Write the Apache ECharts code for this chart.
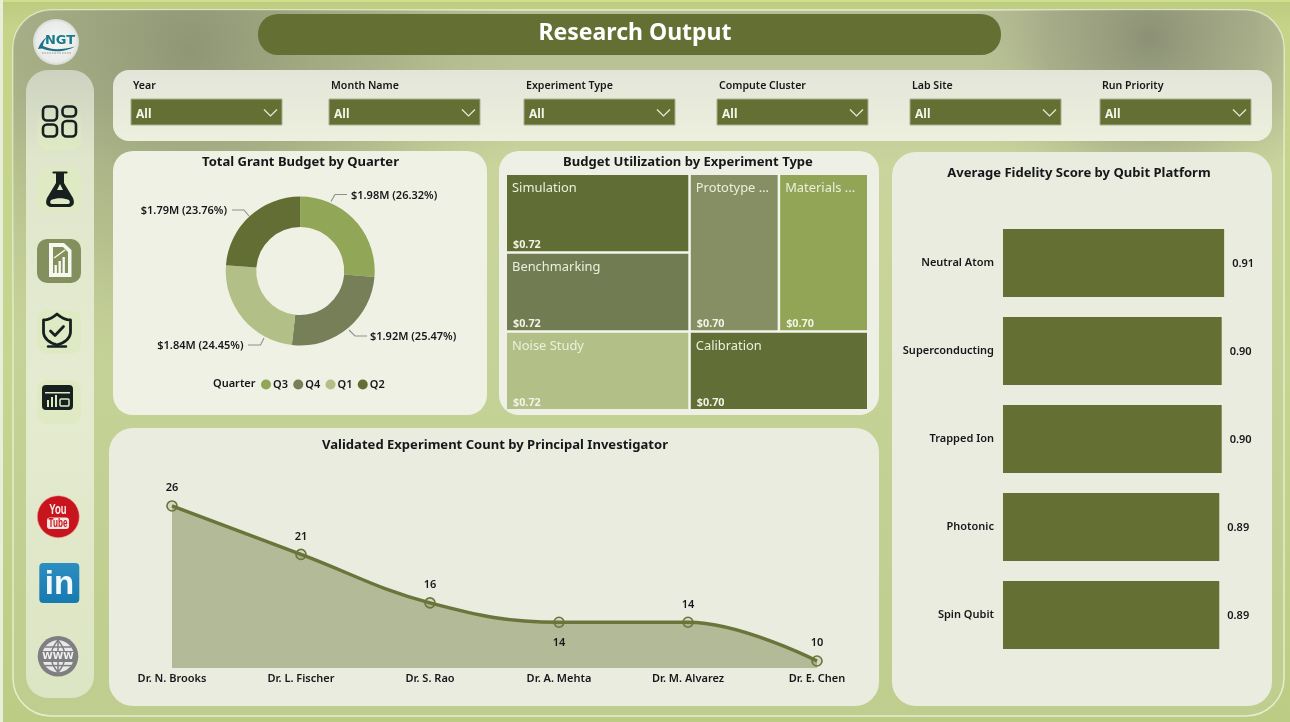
<!DOCTYPE html>
<html>
<head>
<meta charset="utf-8">
<title>Research Output</title>
<script src="https://cdn.jsdelivr.net/npm/echarts@6/dist/echarts.min.js"></script>
<style>
  html, body { margin: 0; padding: 0; background: #c8d690; }
  #board { width: 1290px; height: 722px; }
</style>
</head>
<body>
<div id="board"></div>
<script>
// Quarterly grant budget, in millions of dollars, with the stated share of the total
const quarters = ['Q3', 'Q4', 'Q1', 'Q2'];
const quarterBudget = [1.98, 1.92, 1.84, 1.79];
const quarterShare = ['26.32%', '25.47%', '24.45%', '23.76%'];

// Budget utilization per experiment type
const experimentTypes = ['Simulation', 'Benchmarking', 'Noise Study', 'Prototype ...', 'Materials ...', 'Calibration'];
const experimentUtilization = [0.72, 0.72, 0.72, 0.70, 0.70, 0.70];

// Validated experiments per principal investigator
const investigators = ['Dr. N. Brooks', 'Dr. L. Fischer', 'Dr. S. Rao', 'Dr. A. Mehta', 'Dr. M. Alvarez', 'Dr. E. Chen'];
const validatedCounts = [26, 21, 16, 14, 14, 10];

// Average fidelity per qubit platform
const platforms = ['Neutral Atom', 'Superconducting', 'Trapped Ion', 'Photonic', 'Spin Qubit'];
const fidelityScores = [0.91, 0.90, 0.90, 0.89, 0.89];

// Slicers along the top of the report
const slicerNames = ['Year', 'Month Name', 'Experiment Type', 'Compute Cluster', 'Lab Site', 'Run Priority'];
const slicerLeft = [131, 329, 524, 717, 910, 1100];

const FONT = '"Noto Sans", "Open Sans", sans-serif';
const OLIVE = '#647033';
const INK = '#15181a';

const quarterColors = ['#92a657', '#767f57', '#b2c088', '#626e34'];
const treemapColors = ['#606d34', '#727c53', '#b2c087', '#868f63', '#92a556', '#616e35'];

// Leader lines and label anchors around the donut
const pieLeaders = [
  { x: 351, y: 196, align: 'left', pts: [[331, 201.5], [335, 194.5], [347, 194.5]] },
  { x: 370, y: 337, align: 'left', pts: [[349, 330], [355, 336], [367, 336]] },
  { x: 243.5, y: 346, align: 'right', pts: [[264, 338], [260.5, 345], [248, 345]] },
  { x: 227, y: 211, align: 'right', pts: [[249, 216], [244, 210], [232, 210]] }
];

const linear = (x0, y0, x1, y1, stops) => ({
  type: 'linear', x: x0, y: y0, x2: x1, y2: y1, global: true,
  colorStops: stops.map(([offset, color]) => ({ offset, color }))
});
const radial = (x, y, r, stops) => ({
  type: 'radial', x, y, r, global: true,
  colorStops: stops.map(([offset, color]) => ({ offset, color }))
});

const rect = (x, y, width, height, r, style, z = 1) => ({
  type: 'rect', silent: true, z, shape: { x, y, width, height, r }, style
});
const text = (x, y, str, font, fill, align = 'left', z = 4, scaleX = 1) => ({
  type: 'text', silent: true, z, x, y, scaleX,
  style: { text: str, font, fill, align, verticalAlign: 'middle' }
});
const circle = (cx, cy, r, style, z = 3) => ({
  type: 'circle', silent: true, z, shape: { cx, cy, r }, style
});

// The graphic component has no svg-path element, so small icon outlines are
// flattened from M/L/H/V/Q/Z commands into polylines and polygons.
function outline(d, style, z = 3) {
  const tokens = d.match(/[MLHVQZ]|-?[\d.]+/g);
  const subpaths = [];
  let pts = null, closed = false, cmd = '', i = 0, cx = 0, cy = 0;
  const num = () => parseFloat(tokens[i++]);
  const flush = () => { if (pts && pts.length > 1) subpaths.push({ pts, closed }); pts = null; closed = false; };
  while (i < tokens.length) {
    if (/[MLHVQZ]/.test(tokens[i])) cmd = tokens[i++];
    if (cmd === 'Z') { closed = true; flush(); continue; }
    if (cmd === 'M') { flush(); cx = num(); cy = num(); pts = [[cx, cy]]; }
    else if (cmd === 'L') { cx = num(); cy = num(); pts.push([cx, cy]); }
    else if (cmd === 'H') { cx = num(); pts.push([cx, cy]); }
    else if (cmd === 'V') { cy = num(); pts.push([cx, cy]); }
    else if (cmd === 'Q') {
      const qx = num(), qy = num(), ex = num(), ey = num();
      for (let k = 1; k <= 8; k++) {
        const t = k / 8, u = 1 - t;
        pts.push([u * u * cx + 2 * u * t * qx + t * t * ex, u * u * cy + 2 * u * t * qy + t * t * ey]);
      }
      cx = ex; cy = ey;
    }
  }
  flush();
  return subpaths.map((s) => ({
    type: s.closed ? 'polygon' : 'polyline', silent: true, z,
    shape: { points: s.pts }, style
  }));
}

function backdrop() {
  const inner = (fill) => rect(13, 10, 1271, 706, 38, { fill }, 0);
  return [
    rect(0, 0, 1290, 722, 0, { fill: linear(0, 0, 0, 722, [[0, '#bccb80'], [0.04, '#c5d488'], [0.5, '#c6d58f'], [1, '#bdcc85']]) }, 0),
    rect(0, 0, 1290, 2, 0, { fill: '#cfe08d' }, 0),
    rect(0, 0, 3, 722, 0, { fill: '#e9eedb' }, 0),
    rect(13, 10, 1271, 706, 38, {
      fill: linear(0, 10, 0, 716, [[0, '#b5bc93'], [0.12, '#bcc497'], [0.22, '#c9d59c'], [1, '#bfcd8e']]),
      stroke: '#e6edcf', lineWidth: 1.5
    }, 0),
    inner(radial(190, 50, 340, [[0, 'rgba(135,143,112,0.85)'], [0.6, 'rgba(150,158,120,0.4)'], [1, 'rgba(180,190,140,0)']])),
    inner(radial(1150, 38, 190, [[0, 'rgba(132,137,112,0.85)'], [0.55, 'rgba(150,155,125,0.5)'], [1, 'rgba(190,200,150,0)']]))
  ];
}

function panels() {
  return [
    rect(113, 70, 1159, 71, 16, { fill: linear(0, 70, 0, 141, [[0, '#e3e5d9'], [1, '#edf0dd']]) }),
    rect(113, 151, 374, 264, 20, { fill: '#eff1e4' }),
    rect(499, 151, 380, 264, 20, { fill: '#eff0e5' }),
    rect(109, 428, 770, 278, 24, { fill: '#eaecdf' }),
    rect(892, 152, 380, 554, 24, { fill: '#eaecdf' }),
    rect(258, 14, 743, 41, 20, { fill: OLIVE })
  ];
}

function slicers() {
  const items = [];
  slicerNames.forEach((name, i) => {
    const x = slicerLeft[i];
    items.push(text(x + 2, 86, name, '600 10.6px ' + FONT, INK));
    items.push(rect(x, 99, 151, 26, 0, { fill: OLIVE, stroke: '#a9af90', lineWidth: 1 }, 2));
    items.push(text(x + 5, 115, 'All', 'bold 12px ' + FONT, '#f3f5ea'));
    items.push(...outline(`M${x + 133} 109.5 L${x + 139.5} 116 L${x + 146} 109.5`, { fill: null, stroke: '#e8ebd9', lineWidth: 1.2 }));
  });
  return items;
}

function sidebar() {
  const dark = '#16211f';
  const pale = '#dfe9c4';
  const stroke = (w) => ({ fill: null, stroke: dark, lineWidth: w, lineCap: 'round', lineJoin: 'round' });
  const active = '#848f5e';
  return [
    rect(26, 70, 68, 628, 22, { fill: linear(0, 70, 0, 698, [[0, '#cdd2c0'], [0.14, '#e0e6cb'], [0.5, '#e5ebd0'], [1, '#dce5c3']]) }),
    rect(37, 105, 44, 45, 10, { fill: linear(0, 105, 0, 150, [[0, 'rgba(223,233,196,0)'], [1, pale]]) }, 2),
    rect(37, 168, 44, 44, 10, { fill: pale }, 2),
    rect(37, 239, 44, 44, 10, { fill: active }, 2),
    rect(37, 310, 44, 44, 10, { fill: pale }, 2),
    rect(37, 380, 44, 44, 10, { fill: pale }, 2),

    // dashboard tiles
    rect(43, 106.5, 14, 14, 4, stroke(2.6), 3),
    rect(62.5, 106.5, 13.5, 10, 4, stroke(2.6), 3),
    rect(43, 124.5, 14, 12, 4, stroke(2.6), 3),
    rect(62.5, 121, 13.5, 15.5, 4, stroke(2.6), 3),

    // flask
    ...outline('M53.5 172.5 H66.5', stroke(2.2)),
    ...outline('M56 173 H64 V183 L73 198 Q76 206 69 207 H51 Q44 206 47 198 L56 183 Z', { fill: dark }),
    ...outline('M60 184 L63 190 L57 190 Z', { fill: pale }, 4),
    ...outline('M51 200 Q60 196.5 69 200 Q71 203.5 68 204 H52 Q49 203.5 51 200 Z', { fill: pale }, 4),

    // report page with bars
    ...outline('M49 243 H64 L71.5 250 V277 H49 Z', { fill: '#f6f7ee' }),
    ...outline('M53 247 H63 L68 252 V273 H53 Z', { fill: active }, 4),
    rect(54.5, 265, 2.4, 9, 0, { fill: '#f6f7ee' }, 5),
    rect(58.5, 261, 2.4, 13, 0, { fill: '#f6f7ee' }, 5),
    rect(62.5, 257, 2.4, 17, 0, { fill: '#f6f7ee' }, 5),
    ...outline('M54 258 L65 250', { fill: null, stroke: '#f6f7ee', lineWidth: 1.4 }, 5),

    // shield with check
    ...outline('M57 314 Q50 320 43.5 320 V332 Q44 341 57 345 Q70 341 70.5 332 V320 Q64 320 57 314 Z', stroke(2.8)),
    ...outline('M50.5 331 L55 335.5 L63.5 326.5', stroke(2.8)),
    ...outline('M48 346.5 H66', stroke(2.4)),

    // metrics panel
    rect(42, 385, 31, 25, 4, { fill: dark }, 3),
    rect(45, 392, 25, 1.5, 0, { fill: pale }, 4),
    rect(47, 400, 2, 7, 0, { fill: pale }, 4),
    rect(51, 397, 2, 10, 0, { fill: pale }, 4),
    rect(55, 395, 2, 12, 0, { fill: pale }, 4),
    rect(60, 399, 9, 7, 1, { fill: null, stroke: pale, lineWidth: 1.5 }, 4),

    // brand badge
    circle(56, 42, 23, { fill: radial(56, 42, 23, [[0, '#f6f7f5'], [0.85, '#e9ecea'], [1, '#d7dbd2']]) }, 3),
    text(60, 40.5, 'NGT', 'bold 13px "DejaVu Sans", sans-serif', '#187a8c', 'center'),
    ...outline('M38 49 Q41 41 47 37 Q43 42 43 46 Q55 52 75 46.5 Q60 55 42 48.5 Z', { fill: '#1f6f86' }),
    ...outline('M42 53 H71', { fill: null, stroke: '#8f958f', lineWidth: 1, lineDash: [1.5, 1] }),

    // video channel badge
    circle(58.3, 516.7, 21, { fill: '#c8151d', stroke: '#e9a8a0', lineWidth: 0.6 }, 3),
    text(58, 510, 'You', 'bold 14px "Liberation Sans", sans-serif', '#fbecec', 'center', 4, 0.68),
    rect(47, 517.5, 22, 11.5, 3, { fill: '#f7e5e4' }, 4),
    text(58, 523.5, 'Tube', 'bold 12px "Liberation Sans", sans-serif', '#c8151d', 'center', 5, 0.68),

    // professional network badge
    rect(39.3, 563, 40, 40, 4, { fill: linear(0, 563, 0, 603, [[0, '#2c8dc0'], [1, '#177ab0']]) }, 3),
    text(59.5, 584.5, 'in', 'bold 33px "Liberation Sans", sans-serif', '#f3f8fb', 'center'),

    // website globe
    circle(58, 656.3, 20.3, { fill: '#7f7f82' }, 3),
    circle(58, 656.3, 16, { fill: '#e8e8e8' }, 4),
    ...outline('M58 640.3 Q44 656.3 58 672.3 Q72 656.3 58 640.3 Z M58 640.3 V672.3 M45 647 H71 M45 665.6 H71', { fill: null, stroke: '#7f7f82', lineWidth: 1.5 }, 4),
    rect(40, 651, 36, 11, 0, { fill: '#7f7f82' }, 4),
    text(58, 656.8, 'WWW', 'bold 9.5px "DejaVu Sans", sans-serif', '#f0f0f0', 'center', 5)
  ];
}

const pieData = quarters.map((name, i) => ({
  name,
  value: quarterBudget[i],
  itemStyle: { color: quarterColors[i] }
}));

const treemapData = experimentTypes.map((name, i) => ({
  name,
  value: experimentUtilization[i],
  itemStyle: { color: treemapColors[i] }
}));

const treemapBase = {
  type: 'treemap',
  left: 507, top: 175, width: 360, height: 234,
  roam: false, nodeClick: false, silent: true, sort: false,
  breadcrumb: { show: false }
};

const CLEAR = 'rgba(0,0,0,0)';

const option = {
  animation: false,
  textStyle: { fontFamily: FONT },
  graphic: { elements: [...backdrop(), ...panels(), ...slicers(), ...sidebar(),
    text(635, 33.5, 'Research Output', 'bold 23px ' + FONT, '#ffffff', 'center'),
    text(213, 384, 'Quarter', '600 11px ' + FONT, INK)
  ] },
  title: [
    ['Total Grant Budget by Quarter', 300.5, 162],
    ['Budget Utilization by Experiment Type', 688, 162],
    ['Validated Experiment Count by Principal Investigator', 495, 445],
    ['Average Fidelity Score by Qubit Platform', 1079, 173]
  ].map(([txt, x, y]) => ({
    text: txt, left: x, top: y - 10, textAlign: 'center', padding: 0,
    textStyle: { fontSize: 13.05, fontWeight: 'bold', color: INK, fontFamily: FONT, lineHeight: 20 }
  })),
  legend: {
    data: quarters, left: 261, top: 379, padding: 0,
    icon: 'circle', itemWidth: 10, itemHeight: 10, itemGap: 5.3,
    textStyle: { fontSize: 11, fontWeight: 600, color: INK, fontFamily: FONT, padding: [0, 0, 0, -3] }
  },
  grid: [
    { left: 107.5, width: 774, top: 467.2, height: 200.8 },
    { left: 1003, width: 243, top: 219, height: 440 }
  ],
  xAxis: [
    {
      gridIndex: 0, type: 'category', data: investigators, boundaryGap: true, z: 6,
      axisLine: { show: false }, axisTick: { show: false },
      axisLabel: { fontSize: 11, fontWeight: 600, color: INK, fontFamily: FONT, margin: 5, interval: 0 }
    },
    { gridIndex: 1, type: 'value', min: 0, max: 1, show: false }
  ],
  yAxis: [
    { gridIndex: 0, type: 'value', min: 9.28, max: 30, show: false, splitLine: { show: false } },
    {
      gridIndex: 1, type: 'category', data: platforms, inverse: true, z: 6,
      axisLine: { show: false }, axisTick: { show: false },
      axisLabel: { fontSize: 11, fontWeight: 600, color: INK, fontFamily: FONT, margin: 9, interval: 0 }
    }
  ],
  series: [
    {
      type: 'pie', name: 'Quarter', center: [300.2, 271], radius: [44, 74.5],
      startAngle: 90, clockwise: true, silent: true, z: 6,
      data: pieData,
      label: {
        show: true, position: 'outside', color: INK, fontSize: 11, fontWeight: 600, fontFamily: FONT,
        formatter: (p) => `$${p.value.toFixed(2)}M (${quarterShare[p.dataIndex]})`
      },
      labelLine: { show: true, lineStyle: { color: '#90908b', width: 1.1 } },
      labelLayout: (p) => {
        const l = pieLeaders[p.dataIndex];
        return { x: l.x, y: l.y, align: l.align, verticalAlign: 'middle', labelLinePoints: l.pts };
      }
    },
    {
      ...treemapBase,
      z: 6,
      data: treemapData,
      itemStyle: { gapWidth: 2.5, borderWidth: 0, borderColor: '#f4f5ec' },
      levels: [{ itemStyle: { gapWidth: 2.5, borderWidth: 0, borderColor: '#f4f5ec' } }],
      label: {
        show: true, position: 'insideTopLeft', distance: 5, padding: [2, 0, 0, 0],
        fontSize: 12.9, color: '#ecefdd', fontFamily: FONT,
        formatter: (p) => p.name
      }
    },
    {
      // second pass over the same layout: value captions at the bottom of each cell
      ...treemapBase,
      z: 7,
      data: experimentTypes.map((name, i) => ({
        name, value: experimentUtilization[i], itemStyle: { color: CLEAR, borderColor: CLEAR }
      })),
      itemStyle: { gapWidth: 2.5, borderWidth: 0, borderColor: CLEAR, color: CLEAR },
      levels: [{ itemStyle: { gapWidth: 2.5, borderWidth: 0, borderColor: CLEAR } }],
      label: {
        show: true, position: 'insideBottomLeft', distance: 0.5, padding: [0, 0, 0, 5.5],
        fontSize: 10.8, fontWeight: 'bold', color: '#f1f3e4', fontFamily: FONT,
        formatter: (p) => '$' + p.value.toFixed(2)
      }
    },
    {
      type: 'line', xAxisIndex: 0, yAxisIndex: 0, silent: true, z: 6,
      data: validatedCounts.map((value, i) => ({
        value,
        label: { position: i === 3 ? 'bottom' : 'top', distance: i === 3 ? 9 : 6.5 }
      })),
      smooth: 0.4,
      symbol: 'circle', symbolSize: 10,
      itemStyle: { color: 'rgba(105,117,58,0.15)', borderColor: '#69753a', borderWidth: 1.6 },
      lineStyle: { color: '#69753a', width: 3.4 },
      areaStyle: { color: '#b3ba98', opacity: 1 },
      label: {
        show: true, fontSize: 11, fontWeight: 600, color: INK, fontFamily: FONT
      }
    },
    {
      type: 'bar', xAxisIndex: 1, yAxisIndex: 1, silent: true, z: 6,
      data: fidelityScores, barWidth: 68,
      itemStyle: { color: OLIVE },
      label: {
        show: true, position: 'right', distance: 8, offset: [0, 1], fontSize: 11, fontWeight: 600, color: INK,
        fontFamily: FONT, formatter: (p) => p.value.toFixed(2)
      }
    }
  ]
};

echarts.init(document.getElementById('board'), null, { renderer: 'canvas' }).setOption(option);
</script>
</body>
</html>
